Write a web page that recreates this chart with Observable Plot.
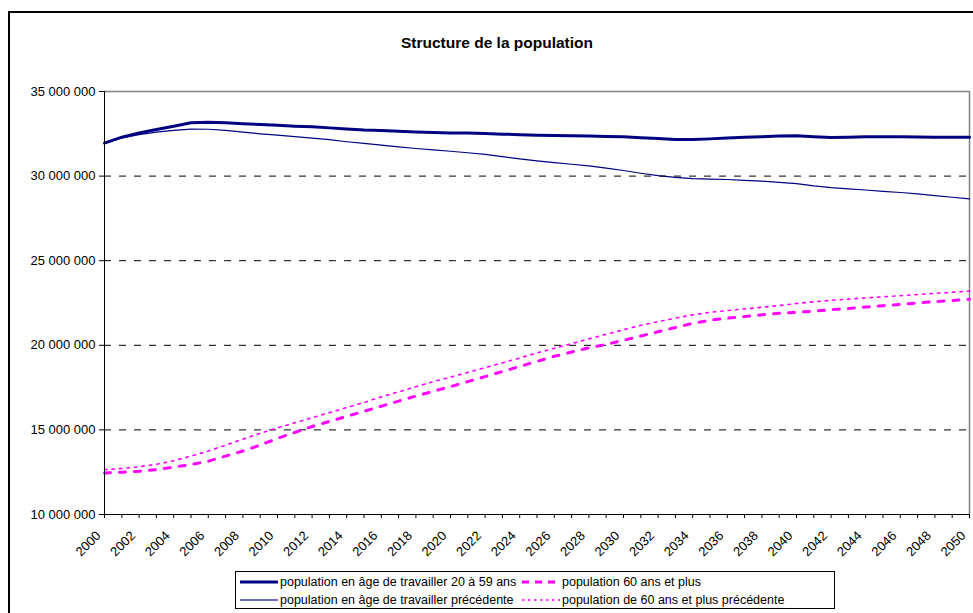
<!DOCTYPE html>
<html>
<head>
<meta charset="utf-8">
<script src="https://cdn.jsdelivr.net/npm/d3@7"></script>
<script src="https://cdn.jsdelivr.net/npm/@observablehq/plot@0.6"></script>
<style>
  html, body { margin: 0; padding: 0; background: #fff; }
  body { font-family: "Liberation Sans", Arial, sans-serif; }
  #wrap { position: relative; width: 973px; height: 613px; overflow: hidden; }
  #frame { position: absolute; left: 8px; top: 11px; width: 1200px; height: 800px; border-left: 2px solid #000; border-top: 2px solid #000; }
  #title { position: absolute; left: 0; width: 994px; top: 34px; text-align: center; font-weight: bold; font-size: 15.5px; color: #000; }
  #chart { position: absolute; left: 0; top: 0; }
  #legend { position: absolute; left: 235px; top: 571px; width: 600px; height: 38px; border: 1px solid #000; box-sizing: border-box; background: #fff; font-size: 12.5px; color: #000; }
  .item { position: absolute; display: flex; align-items: center; height: 18px; }
  .item svg { display: block; }
</style>
</head>
<body>
<div id="wrap">
  <div id="frame"></div>
  <div id="title">Structure de la population</div>
  <div id="chart"></div>
  <div id="legend"></div>
</div>
<script>
// Years 2000..2050
const years = [2000,2001,2002,2003,2004,2005,2006,2007,2008,2009,2010,2011,2012,2013,2014,2015,2016,2017,2018,2019,2020,2021,2022,2023,2024,2025,2026,2027,2028,2029,2030,2031,2032,2033,2034,2035,2036,2037,2038,2039,2040,2041,2042,2043,2044,2045,2046,2047,2048,2049,2050];
const labelYears = [2000,2002,2004,2006,2008,2010,2012,2014,2016,2018,2020,2022,2024,2026,2028,2030,2032,2034,2036,2038,2040,2042,2044,2046,2048,2050];

// Values in millions of people
const workingAge = [31.95,32.3,32.55,32.75,32.95,33.15,33.18,33.15,33.1,33.05,33.0,32.95,32.92,32.85,32.78,32.72,32.7,32.65,32.6,32.57,32.55,32.55,32.52,32.48,32.45,32.42,32.4,32.38,32.37,32.34,32.32,32.27,32.22,32.17,32.16,32.2,32.25,32.3,32.33,32.37,32.38,32.33,32.28,32.3,32.32,32.32,32.33,32.31,32.3,32.3,32.3];
const workingAgePrev = [31.95,32.25,32.45,32.6,32.7,32.78,32.77,32.7,32.6,32.5,32.42,32.33,32.25,32.15,32.03,31.93,31.83,31.73,31.63,31.55,31.47,31.38,31.28,31.15,31.02,30.9,30.8,30.7,30.6,30.47,30.33,30.17,30.03,29.92,29.85,29.82,29.8,29.75,29.7,29.63,29.55,29.42,29.32,29.25,29.18,29.1,29.03,28.95,28.85,28.75,28.65];
const senior = [12.45,12.5,12.55,12.65,12.8,12.95,13.15,13.45,13.75,14.1,14.5,14.85,15.2,15.5,15.8,16.1,16.4,16.7,17.0,17.28,17.56,17.85,18.15,18.45,18.75,19.05,19.35,19.6,19.85,20.05,20.3,20.55,20.8,21.05,21.3,21.48,21.6,21.7,21.8,21.9,21.95,22.02,22.1,22.18,22.26,22.34,22.42,22.5,22.58,22.65,22.72];
const seniorPrev = [12.65,12.72,12.82,12.97,13.18,13.45,13.75,14.1,14.45,14.8,15.12,15.42,15.72,16.02,16.32,16.62,16.95,17.25,17.55,17.85,18.12,18.4,18.68,18.96,19.25,19.55,19.82,20.1,20.38,20.65,20.92,21.18,21.4,21.6,21.8,21.95,22.05,22.15,22.25,22.35,22.47,22.57,22.66,22.73,22.8,22.87,22.93,23.0,23.07,23.13,23.2];

const yTicks = [10e6, 15e6, 20e6, 25e6, 30e6, 35e6];
const gridValues = [15e6, 20e6, 25e6, 30e6];

const seriesNames = [
  "population en âge de travailler 20 à 59 ans",
  "population 60 ans et plus",
  "population en âge de travailler précédente",
  "population de 60 ans et plus précédente"
];

const NAVY = "#000080";
const MAGENTA = "#FF00FF";

const rows = (vals) => years.map((y, i) => ({year: y, value: vals[i] * 1e6}));
const fmt = d => d3.format(",")(d).replace(/,/g, " ");

const chart = Plot.plot({
  width: 973,
  height: 560,
  marginLeft: 104,
  marginRight: 4,
  marginTop: 91,
  marginBottom: 46,
  style: {fontFamily: "'Liberation Sans', Arial, sans-serif", fontSize: "13px", background: "transparent", overflow: "visible"},
  x: {domain: [2000, 2050]},
  y: {domain: [10e6, 35e6]},
  marks: [
    Plot.ruleY(gridValues, {stroke: "#000", strokeWidth: 1, strokeDasharray: "7,8"}),
    Plot.ruleY([35e6], {stroke: "#808080", strokeWidth: 1.5}),
    Plot.ruleX([2050], {stroke: "#808080", strokeWidth: 1.5}),
    Plot.line(rows(workingAgePrev), {x: "year", y: "value", stroke: NAVY, strokeWidth: 1.2}),
    Plot.line(rows(workingAge), {x: "year", y: "value", stroke: NAVY, strokeWidth: 3}),
    Plot.line(rows(seniorPrev), {x: "year", y: "value", stroke: MAGENTA, strokeWidth: 1.6, strokeDasharray: "2.5,5"}),
    Plot.line(rows(senior), {x: "year", y: "value", stroke: MAGENTA, strokeWidth: 3, strokeDasharray: "6,9"}),
    Plot.ruleX([2000], {stroke: "#000", strokeWidth: 1}),
    Plot.ruleY([10e6], {stroke: "#000", strokeWidth: 1}),
    Plot.axisY({ticks: yTicks, tickFormat: fmt, tickSize: 5, tickPadding: 4, label: null, fontSize: 13}),
    Plot.axisX({ticks: years, tickFormat: () => "", tickSize: 4, label: null}),
    Plot.text(labelYears, {x: d => d, y: () => 10e6, text: d => String(d), rotate: -45, textAnchor: "end", lineAnchor: "middle", dx: -6, dy: 19, fontSize: 13, fill: "#000"})
  ]
});
document.getElementById("chart").appendChild(chart);

// Legend
const legend = document.getElementById("legend");
const legendItems = [
  {name: seriesNames[0], left: 4, top: 1, stroke: NAVY, width: 3, dash: null},
  {name: seriesNames[1], left: 286, top: 1, stroke: MAGENTA, width: 3, dash: "7,6"},
  {name: seriesNames[2], left: 4, top: 19, stroke: "#6a6fb8", width: 2, dash: null},
  {name: seriesNames[3], left: 286, top: 19, stroke: MAGENTA, width: 1.6, dash: "2.5,3.5"}
];
legendItems.forEach(it => {
  const div = document.createElement("div");
  div.className = "item";
  div.style.left = it.left + "px";
  div.style.top = it.top + "px";
  const svg = d3.create("svg").attr("width", 38).attr("height", 10).style("margin-right", "2px");
  svg.append("line").attr("x1", 0).attr("x2", 38).attr("y1", 5).attr("y2", 5)
    .attr("stroke", it.stroke).attr("stroke-width", it.width)
    .attr("stroke-dasharray", it.dash);
  div.appendChild(svg.node());
  const span = document.createElement("span");
  span.textContent = it.name;
  div.appendChild(span);
  legend.appendChild(div);
});
</script>
</body>
</html>
